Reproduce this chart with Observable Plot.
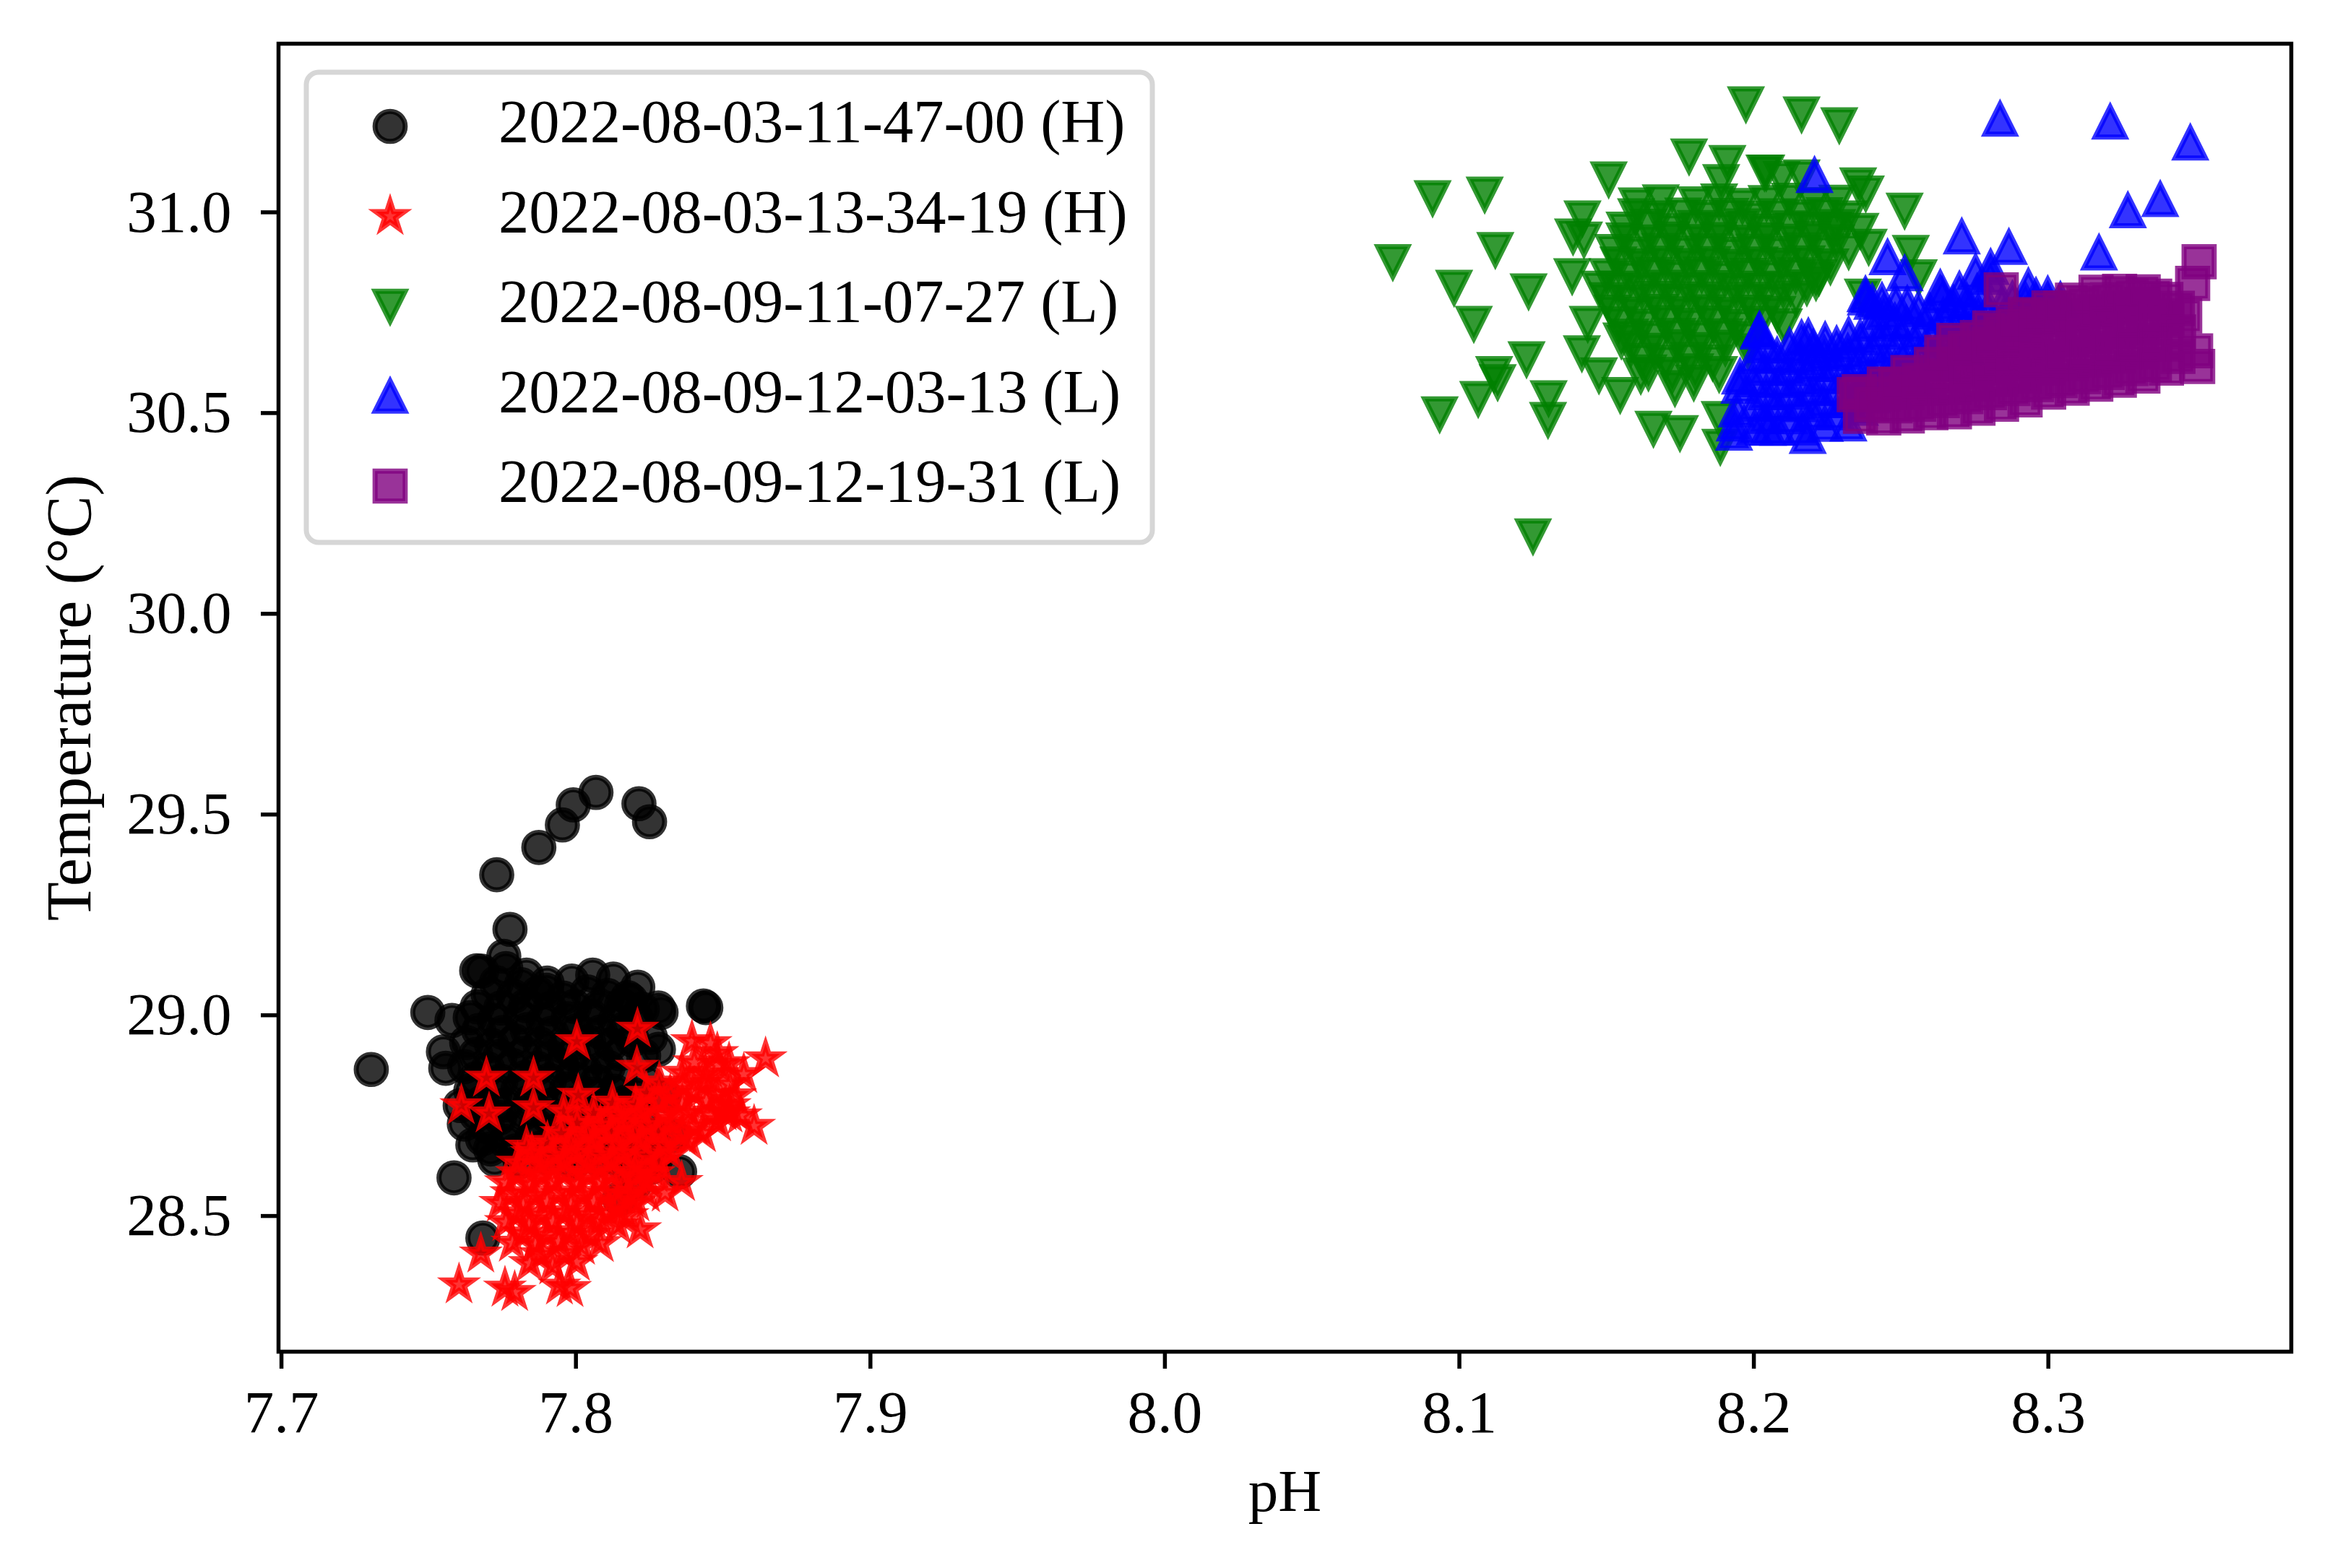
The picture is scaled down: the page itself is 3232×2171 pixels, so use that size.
<!DOCTYPE html>
<html><head><meta charset="utf-8">
<script src="https://cdn.jsdelivr.net/npm/d3@7"></script>
<script src="https://cdn.jsdelivr.net/npm/@observablehq/plot@0.6"></script>
<style>
html,body{margin:0;padding:0;background:#fff;}
#wrap{position:relative;width:3232px;height:2171px;}
#legend{position:absolute;left:0;top:0;pointer-events:none;}
</style></head><body><div id="wrap"></div>
<script>
const xTicks = [7.7, 7.8, 7.9, 8.0, 8.1, 8.2, 8.3];
const yTicks = [28.5, 29.0, 29.5, 30.0, 30.5, 31.0];
const xLabel = "pH";
const yLabel = "Temperature (°C)";
const seriesNames = ["2022-08-03-11-47-00 (H)","2022-08-03-13-34-19 (H)","2022-08-09-11-07-27 (L)","2022-08-09-12-03-13 (L)","2022-08-09-12-19-31 (L)"];
const seriesColors = ["black","red","green","blue","purple"];
const seriesMarkers = ["o","*","v","^","s"];

// [pH, temperature] pairs
const run_0803_114700 = [
[7.7305,28.865],[7.7497,29.007],[7.7586,28.595],[7.7684,28.445],[7.7731,29.350],[7.7776,29.214],[7.7874,29.418],[7.7954,29.474],[7.7991,29.524],[7.8068,29.555],[7.8214,29.527],[7.8250,29.482],[7.8433,29.023],[7.8441,29.019],[7.8289,29.007],[7.7755,29.147],[7.7680,29.110],
[7.7579,28.987],[7.7550,28.909],[7.7558,28.868],[7.7607,28.775],[7.7621,28.729],[7.7650,28.677],
[7.7663,29.111],[7.7762,29.116],[7.7832,29.100],[7.7902,29.080],[7.7986,29.085],[7.8057,29.100],[7.8127,29.090],[7.8176,29.044],
[7.8210,29.070],[7.8280,29.018],[7.8253,28.945],[7.8280,28.915],[7.8300,28.800],[7.8330,28.700],[7.8352,28.610],[7.8148,28.543],[7.8200,28.580],[7.8270,28.640],
[7.7702,29.052],[7.7788,29.047],[7.7871,29.055],[7.7957,29.043],[7.8039,29.058],[7.8108,29.049],[7.8186,29.038],
[7.7641,28.994],[7.7723,28.987],[7.7812,28.996],[7.7889,28.984],[7.7973,28.991],[7.8051,28.998],[7.8132,28.985],[7.8204,28.992],
[7.7629,28.932],[7.7714,28.925],[7.7793,28.936],[7.7878,28.928],[7.7961,28.921],[7.8043,28.934],[7.8118,28.927],[7.8192,28.938],
[7.7622,28.872],[7.7701,28.866],[7.7784,28.875],[7.7869,28.868],[7.7952,28.874],[7.8031,28.861],[7.8109,28.870],
[7.7643,28.812],[7.7725,28.805],[7.7803,28.814],[7.7882,28.807],[7.7968,28.816],[7.8054,28.803],[7.8131,28.811],[7.8212,28.800],
[7.7662,28.752],[7.7741,28.745],[7.7823,28.756],[7.7904,28.748],[7.7983,28.751],[7.8062,28.742],[7.8144,28.755],[7.8221,28.747],
[7.7683,28.692],[7.7762,28.686],[7.7851,28.695],[7.7932,28.684],[7.8013,28.690],[7.8094,28.683],[7.8182,28.694],[7.8260,28.700],
[7.7724,28.641],[7.7811,28.636],[7.7902,28.645],[7.7991,28.632],[7.8079,28.640],[7.8163,28.628],[7.8258,28.622],
[7.7665,29.021],[7.7745,29.018],[7.7830,29.024],[7.7912,29.016],[7.7995,29.022],[7.8075,29.019],[7.8155,29.025],[7.8225,29.015],
[7.7670,28.962],[7.7752,28.957],[7.7835,28.964],[7.7918,28.955],[7.8002,28.961],[7.8083,28.958],[7.8162,28.965],
[7.7660,28.902],[7.7742,28.897],[7.7826,28.905],[7.7910,28.898],[7.7992,28.903],[7.8072,28.896],[7.8150,28.904],[7.8230,28.899],
[7.7660,28.842],[7.7745,28.836],[7.7828,28.845],[7.7910,28.838],[7.7990,28.843],[7.8072,28.835],[7.8150,28.841],[7.8240,28.834],
[7.7680,28.782],[7.7762,28.777],[7.7845,28.785],[7.7925,28.778],[7.8008,28.783],[7.8090,28.776],[7.8170,28.784],
[7.7700,28.722],[7.7782,28.717],[7.7865,28.725],[7.7948,28.718],[7.8030,28.723],[7.8112,28.716],[7.8195,28.724],
[7.7710,28.667],[7.7795,28.662],[7.7880,28.669],[7.7965,28.661],[7.8050,28.666],[7.8135,28.659],[7.8220,28.665],
[7.7730,29.081],[7.7815,29.076],[7.7900,29.062]
];
const run_0803_133419 = [
[7.7603,28.329],[7.7677,28.406],[7.7759,28.321],[7.7792,28.310],[7.7944,28.326],[7.7980,28.320],[7.7696,28.844],[7.7856,28.844],[7.7611,28.775],[7.7705,28.755],[7.7856,28.770],[7.8003,28.935],[7.8209,28.966],[7.8207,28.871],[7.7958,28.760],[7.8008,28.801],[7.8644,28.892],[7.8605,28.724],[7.8570,28.853],[7.8394,28.935],[7.8457,28.930],[7.8218,28.466],[7.8359,28.584],[7.8303,28.558],[7.7832,28.672],
[7.8480,28.905],[7.8520,28.880],[7.8540,28.800],[7.8500,28.760],[7.8560,28.750],
[7.7843,28.382],[7.7921,28.376],[7.8002,28.385],
[7.7784,28.433],[7.7862,28.428],[7.7941,28.436],[7.8019,28.425],[7.8083,28.432],
[7.7762,28.484],[7.7841,28.477],[7.7922,28.486],[7.8003,28.479],[7.8081,28.488],[7.8142,28.476],
[7.7743,28.532],[7.7821,28.526],[7.7902,28.535],[7.7983,28.528],[7.8061,28.536],[7.8139,28.524],[7.8204,28.533],
[7.7762,28.583],[7.7843,28.577],[7.7921,28.586],[7.8004,28.579],[7.8082,28.585],[7.8161,28.576],[7.8243,28.588],
[7.7802,28.632],[7.7881,28.626],[7.7963,28.635],[7.8041,28.628],[7.8123,28.637],[7.8201,28.625],[7.8282,28.634],
[7.7903,28.684],[7.7982,28.677],[7.8061,28.686],[7.8143,28.679],[7.8222,28.688],[7.8301,28.676],[7.8383,28.685],
[7.8004,28.732],[7.8083,28.726],[7.8162,28.735],[7.8241,28.727],[7.8323,28.736],[7.8402,28.724],[7.8481,28.733],
[7.8124,28.782],[7.8203,28.776],[7.8282,28.785],[7.8361,28.778],[7.8443,28.786],[7.8522,28.775],
[7.8283,28.832],[7.8362,28.826],[7.8441,28.835],[7.8523,28.828],
[7.8402,28.882],[7.8483,28.876],
[7.7880,28.404],[7.7960,28.408],
[7.7820,28.456],[7.7900,28.452],[7.7980,28.459],[7.8050,28.453],
[7.7800,28.506],[7.7880,28.502],[7.7960,28.509],[7.8040,28.503],[7.8110,28.507],[7.8175,28.501],
[7.7780,28.556],[7.7860,28.551],[7.7940,28.558],[7.8020,28.552],[7.8100,28.557],[7.8180,28.550],[7.8240,28.556],
[7.7800,28.606],[7.7880,28.601],[7.7960,28.608],[7.8040,28.602],[7.8120,28.607],[7.8200,28.600],[7.8265,28.606],
[7.7850,28.656],[7.7920,28.651],[7.8000,28.658],[7.8080,28.652],[7.8160,28.657],[7.8240,28.650],[7.8320,28.656],
[7.7950,28.706],[7.8040,28.701],[7.8120,28.708],[7.8200,28.702],[7.8280,28.707],[7.8360,28.700],[7.8430,28.706],
[7.8060,28.756],[7.8140,28.751],[7.8220,28.758],[7.8300,28.752],[7.8380,28.757],[7.8460,28.750],[7.8520,28.755],
[7.8240,28.806],[7.8320,28.801],[7.8400,28.808],[7.8480,28.802],
[7.8360,28.856],[7.8440,28.852]
];
const run_0809_110727 = [
[8.1973,31.270],[8.2162,31.245],[8.2290,31.218],[8.1780,31.140],[8.1910,31.124],[8.1507,31.083],[8.0909,31.036],[8.1086,31.045],[8.0774,30.877],[8.1122,30.907],[8.0982,30.813],[8.1235,30.804],[8.1049,30.723],[8.1418,30.986],[8.1386,30.941],[8.1423,30.933],[8.1383,30.842],[8.1228,30.635],[8.1118,30.598],[8.1130,30.578],[8.1064,30.536],[8.0933,30.498],[8.1303,30.538],[8.1301,30.484],[8.1250,30.194],[8.1436,30.723],[8.1416,30.650],[8.1474,30.595],[8.1546,30.546],[8.1659,30.462],[8.1749,30.451],[8.1886,30.417],[8.1884,30.486],[8.1732,30.563],[8.1796,30.577],[8.1616,30.594],
[8.1889,31.076],[8.2036,31.100],[8.2162,31.088],[8.2354,31.068],[8.2380,31.048],[8.2512,31.005],[8.2266,30.955],[8.2390,30.915],[8.2533,30.900],[8.2560,30.839],[8.2370,30.791],[8.2211,30.827],[8.2094,31.084],[8.2042,31.100],[8.1550,30.682],[8.1474,30.811],
[8.1602,31.018],[8.1684,31.026],[8.1803,31.021],[8.1882,31.028],[8.1961,31.017],[8.2043,31.024],[8.2122,31.030],[8.2201,31.019],[8.2283,31.025],
[8.1561,30.958],[8.1642,30.965],[8.1721,30.954],[8.1803,30.962],[8.1882,30.957],[8.1961,30.966],[8.2043,30.953],[8.2122,30.961],[8.2201,30.958],[8.2283,30.964],[8.2362,30.955],
[8.1522,30.902],[8.1603,30.896],[8.1681,30.905],[8.1762,30.898],[8.1843,30.904],[8.1922,30.895],[8.2001,30.903],[8.2083,30.897],[8.2162,30.906],[8.2241,30.899],[8.2322,30.904],
[8.1503,30.842],[8.1582,30.836],[8.1661,30.845],[8.1742,30.838],[8.1823,30.846],[8.1902,30.835],[8.1981,30.843],[8.2063,30.837],[8.2142,30.844],[8.2221,30.839],
[8.1502,30.782],[8.1583,30.776],[8.1662,30.785],[8.1741,30.778],[8.1822,30.784],[8.1903,30.775],[8.1982,30.783],[8.2061,30.777],[8.2143,30.786],
[8.1541,30.722],[8.1622,30.716],[8.1703,30.725],[8.1782,30.718],[8.1861,30.724],[8.1942,30.715],[8.2021,30.723],[8.2102,30.717],
[8.1582,30.662],[8.1663,30.656],[8.1741,30.665],[8.1822,30.658],[8.1903,30.664],[8.1981,30.655],
[8.1642,30.602],[8.1723,30.596],[8.1801,30.605],[8.1882,30.598],
[8.1600,30.991],[8.1680,30.986],[8.1760,30.993],[8.1840,30.987],[8.1920,30.992],[8.2000,30.985],[8.2080,30.991],[8.2160,30.988],[8.2240,30.994],[8.2320,30.986],
[8.1560,30.931],[8.1640,30.926],[8.1720,30.933],[8.1800,30.927],[8.1880,30.932],[8.1960,30.925],[8.2040,30.931],[8.2120,30.928],[8.2200,30.934],[8.2280,30.926],
[8.1540,30.871],[8.1620,30.866],[8.1700,30.873],[8.1780,30.867],[8.1860,30.872],[8.1940,30.865],[8.2020,30.871],[8.2100,30.868],[8.2180,30.874],[8.2260,30.866],
[8.1540,30.811],[8.1620,30.806],[8.1700,30.813],[8.1780,30.807],[8.1860,30.812],[8.1940,30.805],[8.2020,30.811],[8.2100,30.808],[8.2180,30.814],
[8.1520,30.751],[8.1600,30.746],[8.1680,30.753],[8.1760,30.747],[8.1840,30.752],[8.1920,30.745],[8.2000,30.751],[8.2080,30.748],
[8.1580,30.691],[8.1660,30.686],[8.1740,30.693],[8.1820,30.687],[8.1900,30.692],[8.1980,30.685],
[8.1620,30.631],[8.1700,30.626],[8.1780,30.633],[8.1860,30.627]
];
const run_0809_120313 = [
[8.2836,31.232],[8.3210,31.225],[8.3482,31.173],[8.3380,31.032],[8.3270,31.004],[8.3172,30.899],[8.2706,30.939],[8.2866,30.913],[8.2206,31.092],[8.2454,30.887],[8.2512,30.847],[8.2379,30.795],[8.2435,30.779],[8.2633,30.811],[8.2698,30.807],[8.2753,30.851],[8.2804,30.863],[8.2932,30.815],[8.2998,30.795],[8.2019,30.707],[8.2185,30.690],[8.1953,30.590],[8.2183,30.442],[8.1933,30.450],[8.2048,30.462],[8.2016,30.702],[8.1935,30.473],[8.2380,30.787],
[8.1942,30.508],[8.1951,30.567],
[8.2003,30.463],[8.2001,30.522],[8.1998,30.583],[8.2004,30.641],
[8.2082,30.462],[8.2078,30.524],[8.2083,30.581],[8.2079,30.643],
[8.2161,30.463],[8.2158,30.521],[8.2163,30.584],[8.2159,30.639],[8.2162,30.686],
[8.2241,30.472],[8.2238,30.531],[8.2243,30.592],[8.2239,30.648],[8.2242,30.681],
[8.2321,30.473],[8.2318,30.532],[8.2323,30.591],[8.2319,30.652],[8.2322,30.694],
[8.2401,30.543],[8.2398,30.602],[8.2403,30.661],[8.2399,30.722],[8.2402,30.776],
[8.2481,30.553],[8.2478,30.612],[8.2483,30.671],[8.2479,30.728],[8.2482,30.775],
[8.2561,30.583],[8.2558,30.642],[8.2563,30.701],[8.2559,30.758],
[8.2641,30.623],[8.2638,30.682],[8.2643,30.741],[8.2639,30.793],
[8.2721,30.663],[8.2718,30.722],[8.2723,30.778],
[8.2801,30.703],[8.2798,30.762],[8.2803,30.838],
[8.2881,30.724],[8.2878,30.783],
[8.2961,30.752],[8.2958,30.791],
[8.3041,30.781],
[8.2040,30.492],[8.2042,30.551],[8.2038,30.612],[8.2041,30.668],
[8.2120,30.491],[8.2122,30.552],[8.2118,30.611],[8.2121,30.667],
[8.2200,30.502],[8.2202,30.561],[8.2198,30.622],[8.2201,30.662],
[8.2280,30.501],[8.2282,30.562],[8.2278,30.621],[8.2281,30.671],
[8.2360,30.512],[8.2362,30.571],[8.2358,30.632],[8.2361,30.688],
[8.2440,30.582],[8.2442,30.641],[8.2438,30.702],[8.2441,30.751],
[8.2520,30.602],[8.2522,30.661],[8.2518,30.722],[8.2521,30.771],
[8.2600,30.632],[8.2602,30.691],[8.2598,30.752],
[8.2680,30.662],[8.2682,30.721],[8.2678,30.772],
[8.2760,30.692],[8.2762,30.751],[8.2758,30.801],
[8.2840,30.722],[8.2842,30.771],
[8.2920,30.742],[8.2922,30.781],
[8.3000,30.771]
];
const run_0809_121931 = [
[8.3512,30.877],[8.3490,30.823],[8.3500,30.655],[8.3507,30.616],[8.2840,30.807],[8.2341,30.546],[8.3463,30.742],
[8.2362,30.492],[8.2358,30.553],
[8.2441,30.488],[8.2438,30.547],[8.2443,30.572],
[8.2521,30.493],[8.2518,30.552],[8.2523,30.601],
[8.2601,30.501],[8.2598,30.562],[8.2603,30.621],
[8.2681,30.503],[8.2678,30.564],[8.2683,30.622],[8.2679,30.681],
[8.2761,30.512],[8.2758,30.573],[8.2763,30.632],[8.2759,30.688],
[8.2841,30.522],[8.2838,30.583],[8.2843,30.642],[8.2839,30.702],
[8.2921,30.533],[8.2918,30.592],[8.2923,30.653],[8.2919,30.712],[8.2922,30.745],
[8.3001,30.552],[8.2998,30.612],[8.3003,30.671],[8.2999,30.732],[8.3002,30.762],
[8.3081,30.562],[8.3078,30.623],[8.3083,30.682],[8.3079,30.741],[8.3082,30.781],
[8.3161,30.572],[8.3158,30.632],[8.3163,30.691],[8.3159,30.752],[8.3162,30.801],
[8.3241,30.582],[8.3238,30.642],[8.3243,30.703],[8.3239,30.761],[8.3242,30.803],
[8.3321,30.592],[8.3318,30.653],[8.3323,30.712],[8.3319,30.771],[8.3322,30.802],
[8.3401,30.612],[8.3398,30.672],[8.3403,30.731],[8.3399,30.783],
[8.2400,30.521],
[8.2480,30.518],[8.2482,30.571],
[8.2560,30.522],[8.2562,30.581],
[8.2640,30.531],[8.2642,30.592],[8.2638,30.651],
[8.2720,30.541],[8.2722,30.602],[8.2718,30.661],
[8.2800,30.551],[8.2802,30.612],[8.2798,30.671],[8.2801,30.712],
[8.2880,30.561],[8.2882,30.622],[8.2878,30.681],[8.2881,30.722],
[8.2960,30.571],[8.2962,30.632],[8.2958,30.691],[8.2961,30.742],
[8.3040,30.581],[8.3042,30.642],[8.3038,30.701],[8.3041,30.762],
[8.3120,30.591],[8.3122,30.652],[8.3118,30.711],[8.3121,30.772],
[8.3200,30.601],[8.3202,30.662],[8.3198,30.721],[8.3201,30.782],
[8.3280,30.611],[8.3282,30.672],[8.3278,30.731],[8.3281,30.792],
[8.3360,30.621],[8.3362,30.682],[8.3358,30.741],[8.3361,30.791],
[8.3440,30.641],[8.3442,30.702],[8.3438,30.761]
];
const allRuns = [run_0803_114700, run_0803_133419, run_0809_110727, run_0809_120313, run_0809_121931];

// matplotlib-like marker shapes
function mplSymbol(kind) {
  return {draw(ctx, size) {
    const r = Math.sqrt(size / Math.PI);
    if (kind === "o") { ctx.moveTo(r, 0); ctx.arc(0, 0, r, 0, 2 * Math.PI); ctx.closePath(); }
    else if (kind === "*") {
      for (let i = 0; i < 10; i++) {
        const a = Math.PI / 2 + i * Math.PI / 5;
        const rr = i % 2 ? r * 0.381966 : r;
        const x = rr * Math.cos(a), y = -rr * Math.sin(a);
        if (i) ctx.lineTo(x, y); else ctx.moveTo(x, y);
      }
      ctx.closePath();
    }
    else if (kind === "v") { ctx.moveTo(0, r); ctx.lineTo(-r, -r); ctx.lineTo(r, -r); ctx.closePath(); }
    else if (kind === "^") { ctx.moveTo(0, -r); ctx.lineTo(-r, r); ctx.lineTo(r, r); ctx.closePath(); }
    else if (kind === "s") { ctx.moveTo(-r, -r); ctx.lineTo(r, -r); ctx.lineTo(r, r); ctx.lineTo(-r, r); ctx.closePath(); }
  }};
}

const R = 20.85, SW = 7, FS = 83;
const W = 3232, H = 2171;
const mL = 385, mR = 61, mT = 60, mB = 300;

const dotMarks = allRuns.map((run, k) => Plot.dot(run, {
  x: d => d[0], y: d => d[1], r: R, symbol: mplSymbol(seriesMarkers[k]),
  fill: seriesColors[k], fillOpacity: 0.8, stroke: seriesColors[k], strokeOpacity: 0.8, strokeWidth: SW
}));

const chart = Plot.plot({
  width: W, height: H,
  marginLeft: mL, marginRight: mR, marginTop: mT, marginBottom: mB,
  style: {fontFamily: "'Liberation Serif', serif", fontSize: FS + "px", background: "white", color: "black", overflow: "visible"},
  x: {domain: [7.699, 8.3825]},
  y: {domain: [28.162, 31.42]},
  marks: [
    ...dotMarks,
    Plot.frame({stroke: "black", strokeWidth: 5.5}),
    Plot.axisX({ticks: xTicks, tickFormat: d => d.toFixed(1), tickSize: 24, tickPadding: 29, strokeWidth: 5.5, fontSize: FS, label: null}),
    Plot.axisY({ticks: yTicks, tickFormat: d => d.toFixed(1), tickSize: 24, tickPadding: 41, strokeWidth: 5.5, fontSize: FS, label: null}),
    Plot.text([xLabel], {text: d => d, frameAnchor: "bottom", textAnchor: "middle", lineAnchor: "middle", dy: 194, fontSize: FS}),
    Plot.text([yLabel], {text: d => d, frameAnchor: "left", textAnchor: "middle", lineAnchor: "middle", rotate: -90, dx: -289, fontSize: 88})
  ]
});
const wrap = document.getElementById("wrap");
wrap.appendChild(chart);

// legend overlay
const lg = d3.select(wrap).append("svg").attr("id", "legend").attr("width", W).attr("height", H);
lg.append("rect").attr("x", 424).attr("y", 100).attr("width", 1171).attr("height", 651).attr("rx", 17)
  .attr("fill", "white").attr("fill-opacity", 0.8).attr("stroke", "#cccccc").attr("stroke-opacity", 0.8).attr("stroke-width", 7);
const rowY = [175, 299.5, 424, 548.5, 673];
seriesNames.forEach((name, k) => {
  const p = d3.path();
  mplSymbol(seriesMarkers[k]).draw(p, R * R * Math.PI);
  lg.append("path").attr("d", p.toString()).attr("transform", `translate(540,${rowY[k]})`)
    .attr("fill", seriesColors[k]).attr("fill-opacity", 0.8).attr("stroke", seriesColors[k]).attr("stroke-opacity", 0.8).attr("stroke-width", SW);
  lg.append("text").attr("x", 690).attr("y", rowY[k] + 22).attr("font-family", "'Liberation Serif', serif").attr("font-size", 84.5).attr("fill", "black").text(name);
});
</script></body></html>
